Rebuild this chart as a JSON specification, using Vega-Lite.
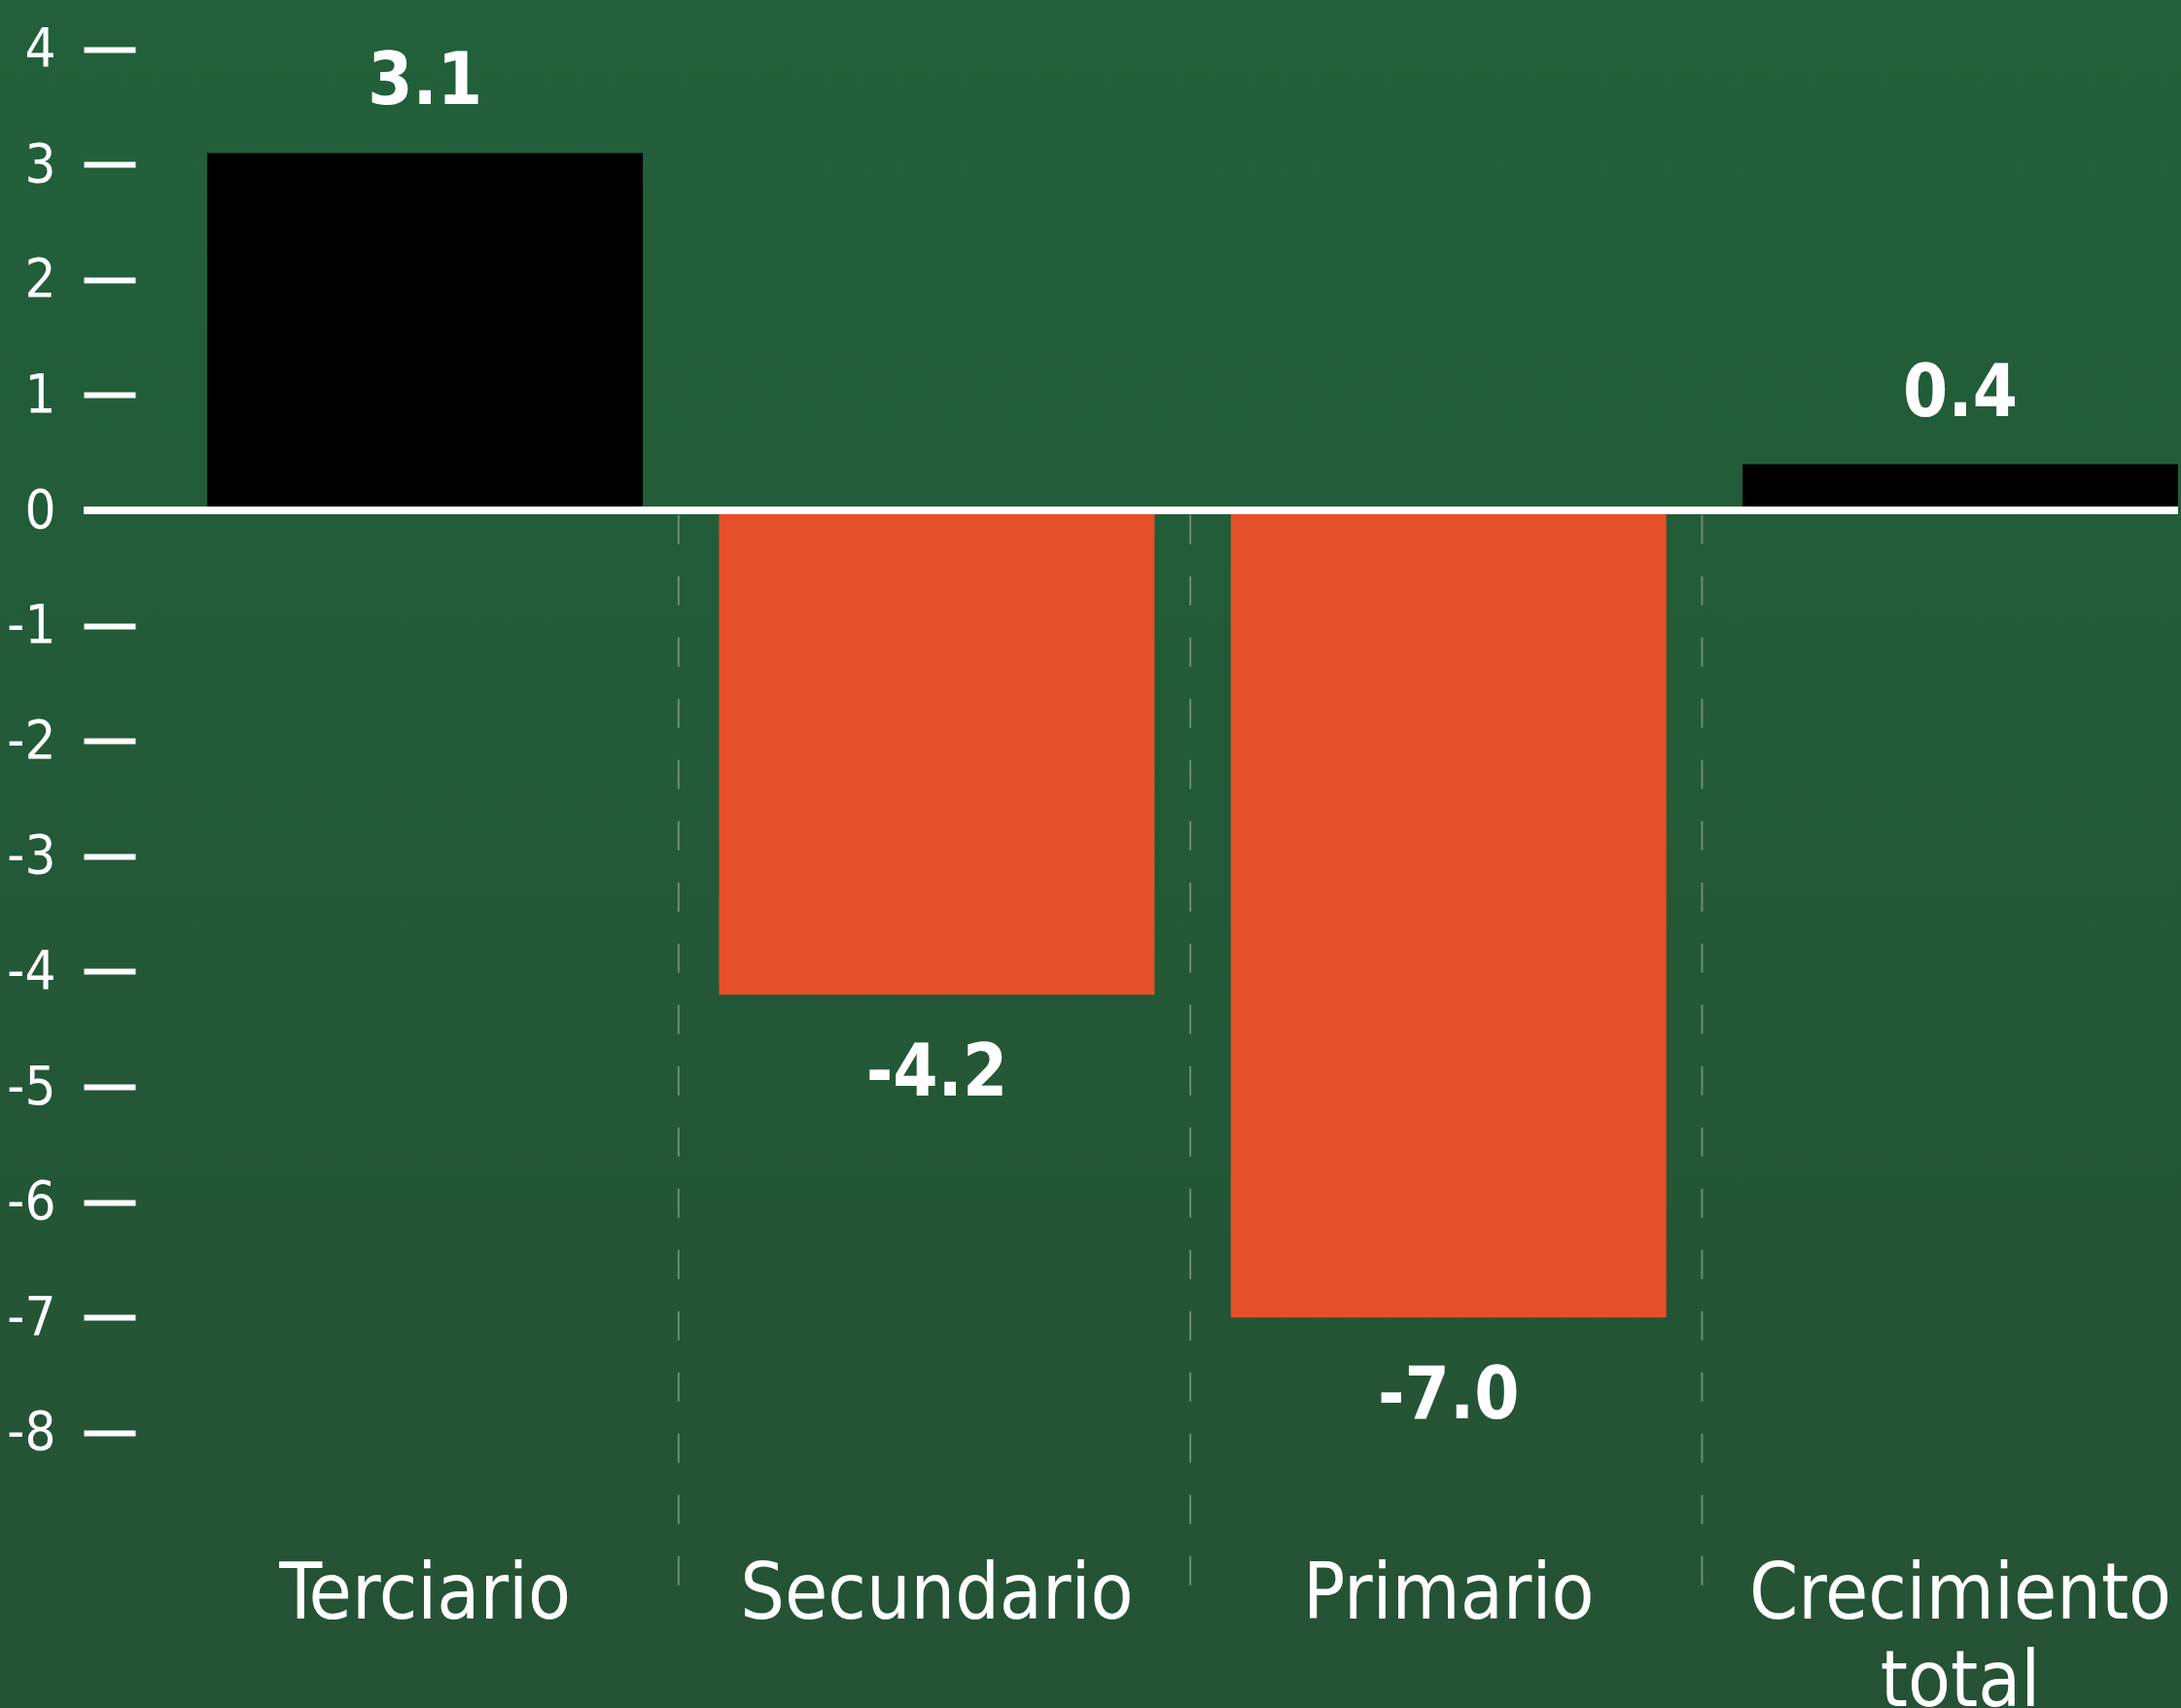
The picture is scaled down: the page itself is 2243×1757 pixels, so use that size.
{
  "$schema": "https://vega.github.io/schema/vega-lite/v6.json",
  "width": 2243,
  "height": 1757,
  "autosize": "none",
  "padding": 0,
  "background": "#235936",
  "config": {
    "view": {
      "stroke": null,
      "fill": {"gradient": "linear", "x1": 0, "y1": 0, "x2": 0, "y2": 1, "stops": [{"offset": 0, "color": "#21603A"}, {"offset": 1, "color": "#255234"}]}
    }
  },
  "data": {
    "values": [
      {"sector": "Terciario", "value": 3.1},
      {"sector": "Secundario", "value": -4.2},
      {"sector": "Primario", "value": -7.0},
      {"sector": "Crecimiento total", "value": 0.4}
    ]
  },
  "transform": [
    {"calculate": "replace(format(datum.value, '.1f'), '\u2212', '-')", "as": "label"}
  ],
  "encoding": {
    "x": {
      "field": "sector",
      "type": "nominal",
      "sort": null,
      "scale": {"domain": ["Terciario", "Secundario", "Primario", "Crecimiento total"], "paddingInner": 0.149, "paddingOuter": 0.2054, "align": 0.986},
      "axis": {
        "orient": "bottom",
        "offset": -156,
        "ticks": false,
        "tickSize": 0,
        "domain": false,
        "grid": false,
        "title": null,
        "labelAngle": 0,
        "labelPadding": 0,
        "labelBaseline": "top",
        "labelFont": "'DejaVu Sans Condensed', 'Liberation Sans Narrow', sans-serif",
        "labelFontSize": 80,
        "labelLineHeight": 90,
        "labelColor": "#FFFFFF",
        "labelLimit": 0,
        "labelOverlap": false,
        "labelFlush": false,
        "labelExpr": "split(datum.label, ' ')"
      }
    }
  },
  "layer": [
    {
      "mark": {"type": "bar"},
      "encoding": {
        "y": {
          "field": "value",
          "type": "quantitative",
          "scale": {"domain": [-10.388, 4.427], "nice": false, "zero": false},
          "axis": {
            "values": [-8, -7, -6, -5, -4, -3, -2, -1, 0, 1, 2, 3, 4],
            "offset": -139,
            "tickSize": 53,
            "tickWidth": 6,
            "tickColor": "#FFFFFF",
            "domain": false,
            "grid": false,
            "title": null,
            "labelColor": "#FFFFFF",
            "labelFont": "'DejaVu Sans Condensed', 'Liberation Sans Narrow', sans-serif",
            "labelFontSize": 56,
            "labelPadding": 29,
            "labelBaseline": "middle",
            "labelExpr": "'' + datum.value"
          }
        },
        "y2": {"datum": 0},
        "color": {"condition": {"test": "datum.value > 0", "value": "#000000"}, "value": "#E5502A"}
      }
    },
    {
      "transform": [{"filter": "datum.sector != 'Terciario'"}],
      "mark": {"type": "rule", "strokeDash": [30, 33], "strokeWidth": 2, "color": "#6A8E76"},
      "encoding": {
        "x": {"field": "sector", "type": "nominal", "bandPosition": -0.093},
        "y": {"datum": -0.04, "type": "quantitative"},
        "y2": {"datum": -9.37}
      }
    },
    {
      "mark": {"type": "rule", "color": "#FFFFFF", "strokeWidth": 7},
      "encoding": {
        "x": {"datum": "Terciario", "type": "nominal", "bandPosition": -0.283},
        "x2": {"datum": "Crecimiento total", "bandPosition": 1},
        "y": {"datum": 0, "type": "quantitative"}
      }
    },
    {
      "transform": [{"filter": "datum.value > 0"}],
      "mark": {"type": "text", "dy": -50, "baseline": "alphabetic", "align": "center", "font": "'DejaVu Sans Condensed', 'Liberation Sans Narrow', sans-serif", "fontSize": 74, "fontWeight": "bold", "color": "#FFFFFF"},
      "encoding": {
        "y": {"field": "value", "type": "quantitative"},
        "text": {"field": "label"}
      }
    },
    {
      "transform": [{"filter": "datum.value < 0"}],
      "mark": {"type": "text", "dy": 104, "baseline": "alphabetic", "align": "center", "font": "'DejaVu Sans Condensed', 'Liberation Sans Narrow', sans-serif", "fontSize": 74, "fontWeight": "bold", "color": "#FFFFFF"},
      "encoding": {
        "y": {"field": "value", "type": "quantitative"},
        "text": {"field": "label"}
      }
    }
  ]
}
